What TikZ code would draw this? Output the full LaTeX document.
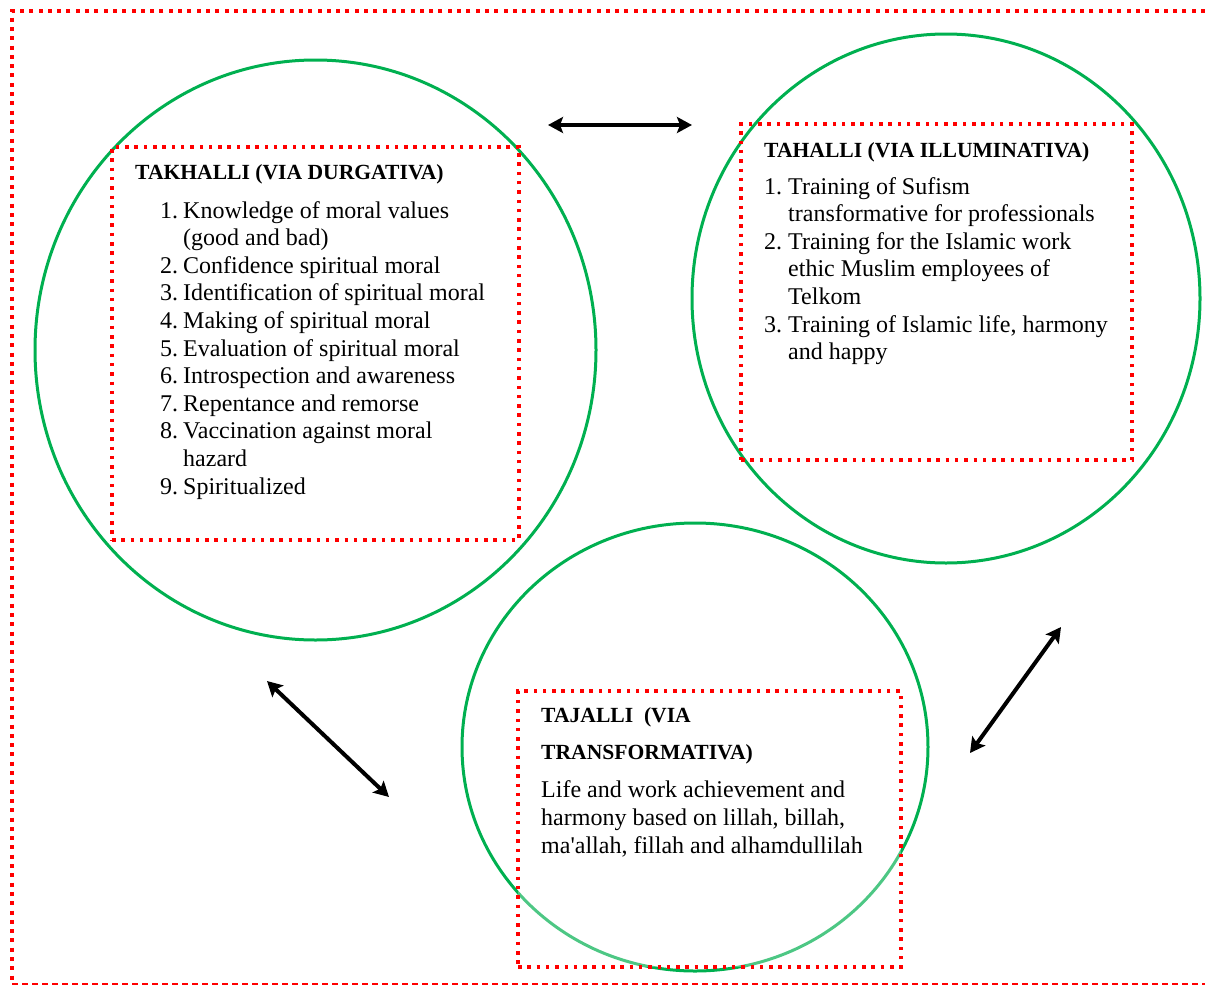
\documentclass[tikz,border=0pt]{standalone}
\usepackage{fontspec}
\setmainfont{Liberation Serif}[Ligatures=TeXOff]
\usetikzlibrary{shapes.geometric,arrows.meta}
\definecolor{wgreen}{HTML}{00B050}
\definecolor{wred}{HTML}{FF0000}
\begin{document}
\begin{tikzpicture}[x=1pt,y=-1pt,
  circ/.style={ellipse, draw=wgreen, line width=3pt, inner sep=0pt, outer sep=0pt},
  dotbox/.style={rectangle, draw=wred, line width=3.5pt, dash pattern=on 3.5pt off 5.8pt, inner sep=0pt, outer sep=0pt, anchor=north west},
  outerdot/.style={draw=wred, line width=4pt, dash pattern=on 4pt off 5.3pt},
  outerdash/.style={draw=wred, line width=2pt, dash pattern=on 6pt off 4pt},
  arr/.style={line width=4pt, {Stealth[length=15pt,width=16pt,inset=3pt]}-{Stealth[length=15pt,width=16pt,inset=3pt]}},
  head/.style={inner sep=0pt, anchor=base west, font=\fontsize{21.6}{25}\selectfont\bfseries},
  body/.style={inner sep=0pt, anchor=base west, font=\fontsize{24}{27.6}\selectfont}
]
\useasboundingbox (0,0) rectangle (1205,985);

% outer border
\draw[outerdot] (1205,11) -- (12,11) -- (12,984);
\draw[outerdash] (12,984) -- (1205,984);

% circles
\node[circ, minimum width=561pt, minimum height=580pt] (cl) at (315.5,350) {};
\node[circ, minimum width=508pt, minimum height=529pt] (cr) at (946,298.5) {};
\node[circ, minimum width=466pt, minimum height=448pt] (cb) at (695,747) {};

% boxes
\node[dotbox, minimum width=407pt, minimum height=393pt] (bl) at (112,147) {};
\node[dotbox, minimum width=391pt, minimum height=336pt] (br) at (741,124) {};
\node[dotbox, fill=white, fill opacity=0.3, minimum width=383pt, minimum height=276pt] (bb) at (518,691) {};

% left text
\node[head] (hl) at (135,179) {TAKHALLI (VIA DURGATIVA)};
\node[body] (tl) at (160,218) {\begin{tabular}[t]{@{}l@{\hspace{5pt}}l@{}}
1. & Knowledge of moral values\\
   & (good and bad)\\
2. & Confidence spiritual moral\\
3. & Identification of spiritual moral\\
4. & Making of spiritual moral\\
5. & Evaluation of spiritual moral\\
6. & Introspection and awareness\\
7. & Repentance and remorse\\
8. & Vaccination against moral\\
   & hazard\\
9. & Spiritualized
\end{tabular}};

% right text
\node[head] (hr) at (764,157) {TAHALLI (VIA ILLUMINATIVA)};
\node[body] (tr) at (764,194) {\begin{tabular}[t]{@{}l@{\hspace{6pt}}l@{}}
1. & Training of Sufism\\
   & transformative for professionals\\
2. & Training for the Islamic work\\
   & ethic Muslim employees of\\
   & Telkom\\
3. & Training of Islamic life, harmony\\
   & and happy
\end{tabular}};

% bottom text
\node[head, font=\fontsize{21.6}{37}\selectfont\bfseries] (hb) at (541,722) {\begin{tabular}[t]{@{}l@{}}
TAJALLI\ \ (VIA\\
TRANSFORMATIVA)
\end{tabular}};
\node[body, font=\fontsize{24}{28}\selectfont] (tb) at (541,797) {\begin{tabular}[t]{@{}l@{}}
Life and work achievement and\\
harmony based on lillah, billah,\\
ma'allah, fillah and alhamdullilah
\end{tabular}};

% arrows
\coordinate (a1) at (548,125);
\coordinate (a2) at (692,125);
\coordinate (b1) at (267,681);
\coordinate (b2) at (389,797);
\coordinate (c1) at (1061,627);
\coordinate (c2) at (970,753);
\draw[arr] (a1) -- (a2);
\draw[arr] (b1) -- (b2);
\draw[arr] (c1) -- (c2);
\end{tikzpicture}
\end{document}
